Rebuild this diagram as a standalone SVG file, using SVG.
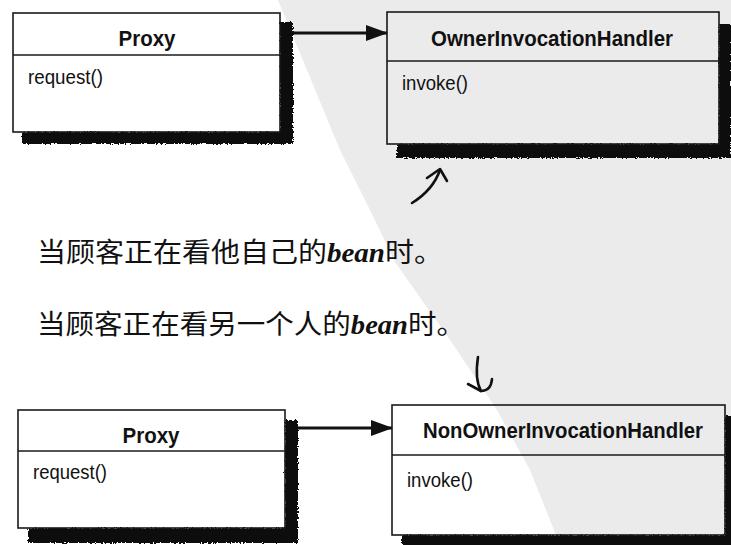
<svg xmlns="http://www.w3.org/2000/svg" width="731" height="545" viewBox="0 0 731 545">
  <style>
    .box { fill: none; stroke: #1a1a1a; stroke-width: 1.6; }
    .sep { stroke: #1a1a1a; stroke-width: 1.6; }
    .shadow { fill: #0a0a0a; filter: url(#rough); }
    .title { font-family: "Liberation Sans", Arial, sans-serif; font-weight: bold; font-size: 22.5px; fill: #111; text-anchor: middle; }
    .op { font-family: "Liberation Sans", Arial, sans-serif; font-size: 20px; fill: #111; }
    .conn { stroke: #111; stroke-width: 3; fill: none; }
    .hand { stroke: #111; stroke-width: 2.6; fill: none; stroke-linecap: round; stroke-linejoin: round; }
    .note { font-family: "Noto Sans CJK SC", "Noto Sans CJK TC", sans-serif; font-size: 27px; fill: #111; }
    .bean { font-style: italic; font-family: "Liberation Serif", serif; font-weight: bold; }
  </style>
  <defs>
    <filter id="rough" x="-5%" y="-5%" width="110%" height="110%">
      <feTurbulence type="fractalNoise" baseFrequency="0.6" numOctaves="2" seed="3" result="n"/>
      <feDisplacementMap in="SourceGraphic" in2="n" scale="4" xChannelSelector="R" yChannelSelector="G"/>
    </filter>
    <marker id="arrow" viewBox="0 0 22 16" refX="21" refY="8" markerWidth="22" markerHeight="16" markerUnits="userSpaceOnUse" orient="auto">
      <path d="M0,0 L22,8 L0,16 Z" fill="#111"/>
    </marker>
  </defs>

  <rect x="0" y="0" width="731" height="545" fill="#ffffff"/>
  <polygon points="278,0 340,150 370,210 395,262 450,340 497,410 530,470 560,545 731,545 731,0" fill="#ebebeb"/>

  <g id="connectors">
    <line class="conn" x1="290" y1="33" x2="387" y2="33" marker-end="url(#arrow)"/>
    <line class="conn" x1="296" y1="428" x2="392" y2="428" marker-end="url(#arrow)"/>
    <path class="hand" d="M412,203 Q433,190 440,170"/>
    <path class="hand" d="M427,178 L440,169 L447,181"/>
    <path class="hand" d="M478,357 C476,370 476,382 481,391"/>
    <path class="hand" d="M468,384 L481,391 Q491,391 492,379"/>
  </g>

  <g id="proxy-top">
    <path class="shadow" d="M280,22 L293,22 L293,144 L22,144 L22,132 L280,132 Z"/>
    <rect class="box" x="13" y="13" width="267" height="119"/>
    <line class="sep" x1="13" y1="55" x2="280" y2="55"/>
    <text class="title" x="147" y="46" textLength="57" lengthAdjust="spacingAndGlyphs">Proxy</text>
    <text class="op" x="28" y="84" textLength="75" lengthAdjust="spacingAndGlyphs">request()</text>
  </g>

  <g id="owner-handler">
    <path class="shadow" d="M719,24 L731,24 L731,158 L397,158 L397,144 L719,144 Z"/>
    <rect class="box" x="387" y="12" width="332" height="132"/>
    <line class="sep" x1="387" y1="61" x2="719" y2="61"/>
    <text class="title" x="552" y="46" textLength="242" lengthAdjust="spacingAndGlyphs">OwnerInvocationHandler</text>
    <text class="op" x="402" y="90" textLength="66" lengthAdjust="spacingAndGlyphs">invoke()</text>
  </g>

  <g id="proxy-bottom">
    <path class="shadow" d="M285,420 L298,420 L298,543 L28,543 L28,528 L285,528 Z"/>
    <rect class="box" x="18" y="410" width="267" height="118"/>
    <line class="sep" x1="18" y1="451" x2="285" y2="451"/>
    <text class="title" x="151" y="443" textLength="57" lengthAdjust="spacingAndGlyphs">Proxy</text>
    <text class="op" x="33" y="479" textLength="74" lengthAdjust="spacingAndGlyphs">request()</text>
  </g>

  <g id="nonowner-handler">
    <path class="shadow" d="M725,416 L737,416 L737,551 L402,551 L402,535 L725,535 Z"/>
    <rect class="box" x="392" y="405" width="333" height="130"/>
    <line class="sep" x1="392" y1="455" x2="725" y2="455"/>
    <text class="title" x="563" y="438" textLength="280" lengthAdjust="spacingAndGlyphs">NonOwnerInvocationHandler</text>
    <text class="op" x="407" y="487" textLength="66" lengthAdjust="spacingAndGlyphs">invoke()</text>
  </g>

  <g id="notes">
    <text class="note" x="37" y="262" textLength="406" lengthAdjust="spacingAndGlyphs">当顾客正在看他自己的<tspan class="bean">bean</tspan>时。</text>
    <text class="note" x="37" y="334" textLength="428" lengthAdjust="spacingAndGlyphs">当顾客正在看另一个人的<tspan class="bean">bean</tspan>时。</text>
  </g>
</svg>
